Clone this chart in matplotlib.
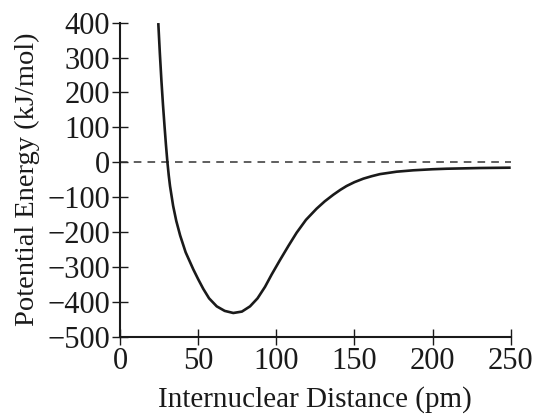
import matplotlib
matplotlib.use("Agg")
import matplotlib.pyplot as plt

plt.rcParams["font.family"] = ["Liberation Serif", "DejaVu Serif"]

# 核间距 (pm) 与势能 (kJ/mol)
distance = [24.5, 25.5, 26.5, 27.5, 28.5, 29.4, 30.3, 31.2, 32, 34, 36, 38.5, 42,
            46.9, 50, 53.3, 57, 61.9, 67, 72.5, 78, 83.2, 88, 92.8, 97, 102.4,
            108, 113, 119, 125.8, 131, 136.5, 141, 145, 150, 155.7, 161, 166.3,
            177, 187.7, 200, 209, 230, 250]
energy = [399, 312, 234, 165, 103, 50, 2, -38, -68, -125, -168, -210, -258,
          -307, -335, -363, -390, -413, -426, -432, -428, -413, -390, -357, -322, -280,
          -238, -202, -165, -133, -112, -93, -79, -68, -57, -47, -40, -34,
          -27, -23, -20, -18.5, -16.5, -15.5]

x_ticks = [0, 50, 100, 150, 200, 250]
y_ticks = [400, 300, 200, 100, 0, -100, -200, -300, -400, -500]

fig = plt.figure(figsize=(5.35, 4.16), dpi=100)
ax = fig.add_axes([0.2243, 0.1906, 0.7303, 0.7548])

ax.axhline(0, color="#333333", linestyle=(0, (5, 4)), linewidth=1.1)
ax.plot(distance, energy, color="#1a1a1a", linewidth=1.9,
        solid_capstyle="butt", solid_joinstyle="round")

ax.set_xlim(0, 250)
ax.set_ylim(-500, 400)
ax.set_xticks(x_ticks)
ax.set_yticks(y_ticks)
ax.set_yticklabels([str(v).replace("-", "\u2212") for v in y_ticks])

for s in ["top", "right"]:
    ax.spines[s].set_visible(False)
for s in ["left", "bottom"]:
    ax.spines[s].set_linewidth(1.5)
    ax.spines[s].set_color("#1a1a1a")

ax.tick_params(direction="inout", length=11.5, width=1.0, labelsize=22,
               colors="#1a1a1a", pad=1.5)
ax.tick_params(axis="x", pad=2)

ax.set_xlabel("Internuclear Distance (pm)", fontsize=21, color="#1a1a1a", labelpad=7)
ax.set_ylabel("Potential Energy (kJ/mol)", fontsize=20.5, color="#1a1a1a", labelpad=5)

fig.savefig("out.png", dpi=100)
